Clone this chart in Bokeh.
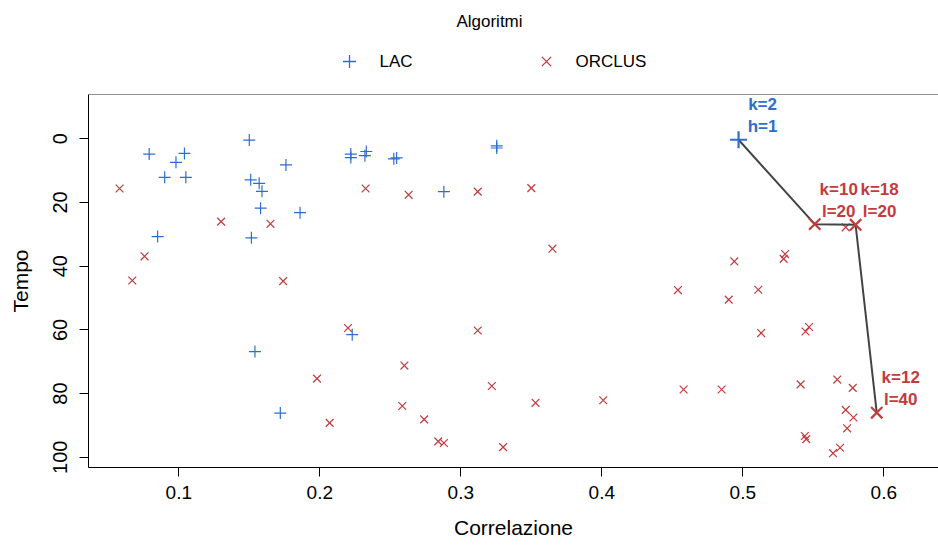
from bokeh.plotting import figure
from bokeh.models import Range1d, LinearAxis, FixedTicker, ColumnDataSource, Span
from bokeh.layouts import column
from bokeh.embed import file_html
from bokeh.resources import INLINE
from bokeh.core.properties import value

# ---- data -------------------------------------------------------------
lac_x = [0.150, 0.079, 0.104, 0.098, 0.090, 0.105, 0.176, 0.222, 0.222, 0.233,
         0.232, 0.151, 0.157, 0.159, 0.158, 0.186, 0.085, 0.1515, 0.2525, 0.2545,
         0.3255, 0.3255, 0.288, 0.223, 0.154, 0.172]
lac_y = [0.4, 4.8, 4.6, 7.4, 12.1, 12.1, 8.2, 4.8, 5.9, 4.0,
         5.3, 12.9, 14.0, 16.5, 21.8, 23.2, 30.7, 31.1, 6.3, 6.0,
         2.2, 2.9, 16.6, 61.5, 66.8, 86.1]

orc_x = [0.058, 0.2325, 0.130, 0.165, 0.0757, 0.067, 0.174, 0.263, 0.312, 0.350,
         0.365, 0.220, 0.198, 0.207, 0.312, 0.260, 0.322, 0.2585, 0.353, 0.401,
         0.274, 0.284, 0.288, 0.330, 0.573, 0.494, 0.530, 0.529, 0.454, 0.511,
         0.490, 0.513, 0.547, 0.5445, 0.458, 0.485, 0.541, 0.567, 0.578, 0.573,
         0.5785, 0.574, 0.544, 0.545, 0.569, 0.564]
orc_y = [15.6, 15.6, 26.0, 26.7, 36.9, 44.5, 44.7, 17.6, 16.6, 15.5,
         34.5, 59.4, 75.3, 89.2, 60.2, 71.2, 77.6, 83.9, 82.9, 82.1,
         88.1, 95.0, 95.5, 96.8, 27.8, 38.5, 36.2, 37.7, 47.5, 47.4,
         50.5, 61.0, 59.1, 60.5, 78.7, 78.7, 77.1, 75.6, 78.2, 85.1,
         87.5, 90.9, 93.3, 94.3, 97.0, 98.7]

front_x = [0.497, 0.551, 0.580, 0.595]
front_y = [0.3, 26.8, 27.0, 86.0]
front_alg = ["LAC", "ORCLUS", "ORCLUS", "ORCLUS"]
front_line1 = ["k=2", "k=10", "k=18", "k=12"]
front_line2 = ["h=1", "l=20", "l=20", "l=40"]

x_ticks = [0.1, 0.2, 0.3, 0.4, 0.5, 0.6]
y_ticks = [0, 20, 40, 60, 80, 100]
legend_title = "Algoritmi"
legend_labels = ["LAC", "ORCLUS"]
x_title = "Correlazione"
y_title = "Tempo"

# ---- style ------------------------------------------------------------
BLUE = "#2C6ED0"
RED = "#C23B3E"
FONT = "Liberation Sans"
alg_color = {"LAC": BLUE, "ORCLUS": RED}

# ---- legend strip (above the plot), coordinates = page pixels ---------
top = figure(frame_width=850, frame_height=94, x_range=Range1d(88, 938), y_range=Range1d(94, 0),
             output_backend="svg", toolbar_location=None,
             min_border_left=88, min_border_right=0, min_border_top=0, min_border_bottom=0,
             x_axis_location=None, y_axis_location=None, outline_line_color=None)
for g in top.grid:
    g.visible = False
top.text(x=[489], y=[21], text=[legend_title], text_align="center", text_baseline="middle",
         text_font=value(FONT), text_font_size="17px", text_color="black")
top.scatter(x=[349], y=[61], marker="cross", size=13, line_color=BLUE, line_width=1.3)
top.text(x=[379], y=[61], text=[legend_labels[0]], text_align="left", text_baseline="middle",
         text_font=value(FONT), text_font_size="17px", text_color="black")
top.scatter(x=[546], y=[61], marker="x", size=13, line_color=RED, line_width=1.3)
top.text(x=[575], y=[61], text=[legend_labels[1]], text_align="left", text_baseline="middle",
         text_font=value(FONT), text_font_size="17px", text_color="black")

# ---- main plot --------------------------------------------------------
p = figure(frame_width=850, frame_height=373,
           x_range=Range1d(0.03596, 0.6388), y_range=Range1d(103.2, -13.9),
           output_backend="svg", toolbar_location=None,
           min_border_left=88, min_border_right=0, min_border_top=0, min_border_bottom=76,
           x_axis_location=None, y_axis_location=None, outline_line_color=None)
for g in p.grid:
    g.visible = False

xaxis = LinearAxis(ticker=FixedTicker(ticks=x_ticks), axis_label=x_title)
yaxis = LinearAxis(ticker=FixedTicker(ticks=y_ticks), axis_label=y_title)
for ax in (xaxis, yaxis):
    ax.major_tick_in = 0
    ax.major_tick_out = 9
    ax.minor_tick_in = 0
    ax.minor_tick_out = 0
    ax.axis_line_color = "black"
    ax.major_tick_line_color = "black"
    ax.major_label_text_font = FONT
    ax.major_label_text_color = "black"
    ax.axis_label_text_font = FONT
    ax.axis_label_text_font_style = "normal"
    ax.axis_label_text_color = "black"
xaxis.major_label_text_font_size = "19px"
xaxis.major_label_standoff = 9
xaxis.axis_label_text_font_size = "21px"
xaxis.axis_label_standoff = 14
yaxis.major_label_text_font_size = "20px"
yaxis.major_label_orientation = "vertical"
yaxis.major_label_standoff = 12
yaxis.axis_label_text_font_size = "21px"
yaxis.axis_label_standoff = 19
p.add_layout(xaxis, "below")
p.add_layout(yaxis, "left")
p.add_layout(Span(location=-13.9, dimension="width", line_color="#222222", line_width=1))

p.scatter(lac_x, lac_y, marker="cross", size=12, line_color=BLUE, line_width=1.2)
p.scatter(orc_x, orc_y, marker="x", size=11, line_color=RED, line_width=1.2)

p.line(front_x, front_y, line_color="#444444", line_width=2)
fsrc = ColumnDataSource(dict(x=front_x, y=front_y, l1=front_line1, l2=front_line2,
                             c=[alg_color[a] for a in front_alg], alg=front_alg))
lac_f = [i for i, a in enumerate(front_alg) if a == "LAC"]
orc_f = [i for i, a in enumerate(front_alg) if a == "ORCLUS"]
p.scatter([front_x[i] for i in lac_f], [front_y[i] for i in lac_f], marker="cross",
          size=17, line_color=BLUE, line_width=2.2)
p.scatter([front_x[i] for i in orc_f], [front_y[i] for i in orc_f], marker="x",
          size=16, line_color=RED, line_width=2.2)
p.text(x="x", y="y", text="l1", source=fsrc, x_offset=24, y_offset=-35,
       text_align="center", text_baseline="middle", text_font=value(FONT),
       text_font_style="bold", text_font_size="17px", text_color="c")
p.text(x="x", y="y", text="l2", source=fsrc, x_offset=24, y_offset=-13,
       text_align="center", text_baseline="middle", text_font=value(FONT),
       text_font_style="bold", text_font_size="17px", text_color="c")

layout = column(top, p, spacing=0)
open("out.html", "w").write(file_html(layout, INLINE))
